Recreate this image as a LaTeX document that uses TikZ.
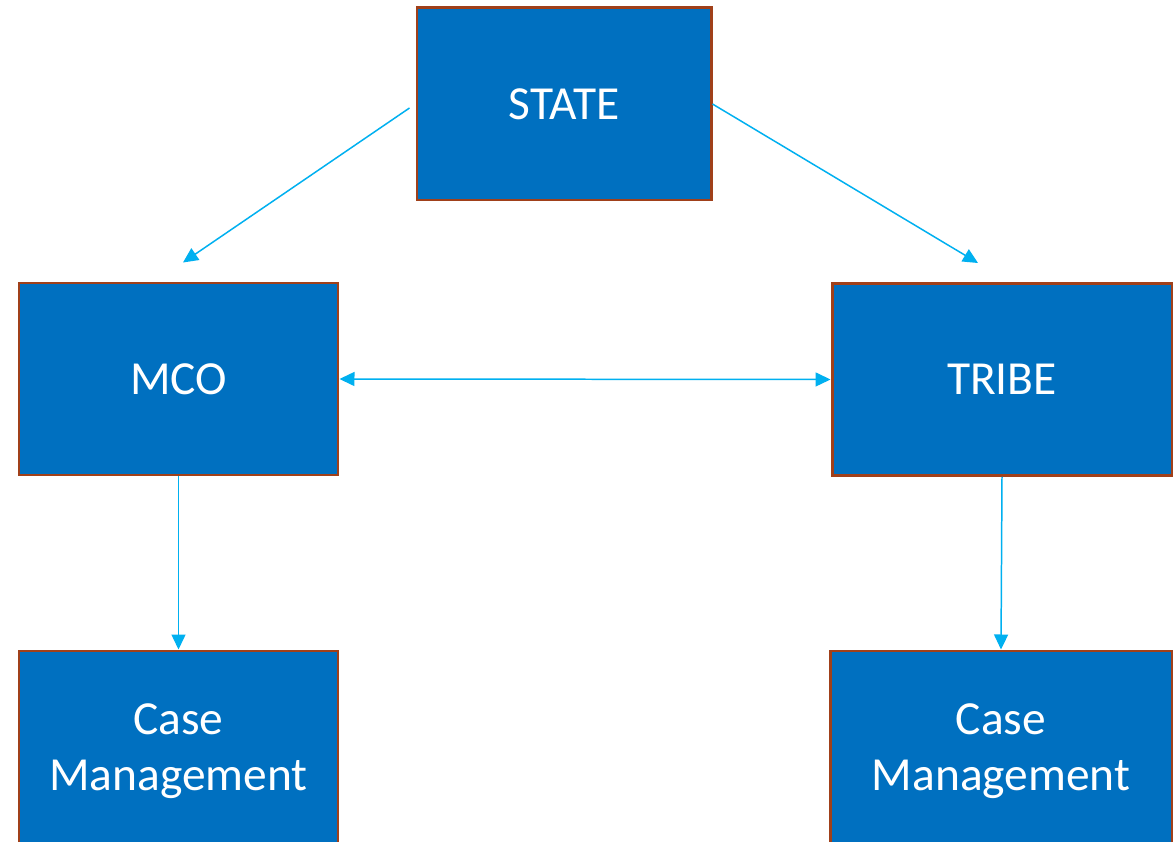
\documentclass[tikz,border=0pt]{standalone}
\usepackage{fontspec}
\setmainfont{Carlito}
\usetikzlibrary{arrows.meta}

\definecolor{boxblue}{HTML}{0070C0}
\definecolor{boxedge}{HTML}{A0401A}
\definecolor{linkblue}{HTML}{00B0F0}

\begin{document}
\begin{tikzpicture}[
    unit/.style={draw=boxedge, line width=1.7pt, fill=boxblue, text=white,
        align=center, minimum height=3.84cm,
        font=\fontsize{27}{32}\selectfont},
    link/.style={draw=linkblue, line width=0.85pt,
        -{Triangle[length=0.3cm, width=0.28cm]}}
]
    \clip (0, 0) rectangle (23.46, -16.84);
    \fill[white] (0, 0) rectangle (23.46, -16.84);

    % top level
    \node[unit, minimum width=5.88cm] (state) at (11.28, -2.08) {STATE};

    % middle row
    \node[unit, minimum width=6.38cm] (mco) at (3.57, -7.58) {MCO};
    \node[unit, minimum width=6.80cm] (tribe) at (20.04, -7.59) {TRIBE};

    % bottom row, runs off the lower edge
    \node[unit, minimum width=6.38cm, minimum height=4cm] (casemco) at (3.57, -15.02) {Case\\Management};
    \node[unit, minimum width=6.84cm, minimum height=4cm] (casetribe) at (20.02, -15.02) {Case\\Management};

    \draw[link] ([shift={(-0.12,-0.08)}]state.west) -- ([shift={(0.09,0.38)}]mco.north);
    \draw[link] (state.east) -- ([shift={(-0.48,0.38)}]tribe.north);
    \draw[link, {Triangle[length=0.3cm, width=0.28cm]}-{Triangle[length=0.3cm, width=0.28cm]}] (mco.east) -- (tribe.west);
    \draw[link] (mco.south) -- (casemco.north);
    \draw[link] (tribe.south) -- (casetribe.north);
\end{tikzpicture}
\end{document}
